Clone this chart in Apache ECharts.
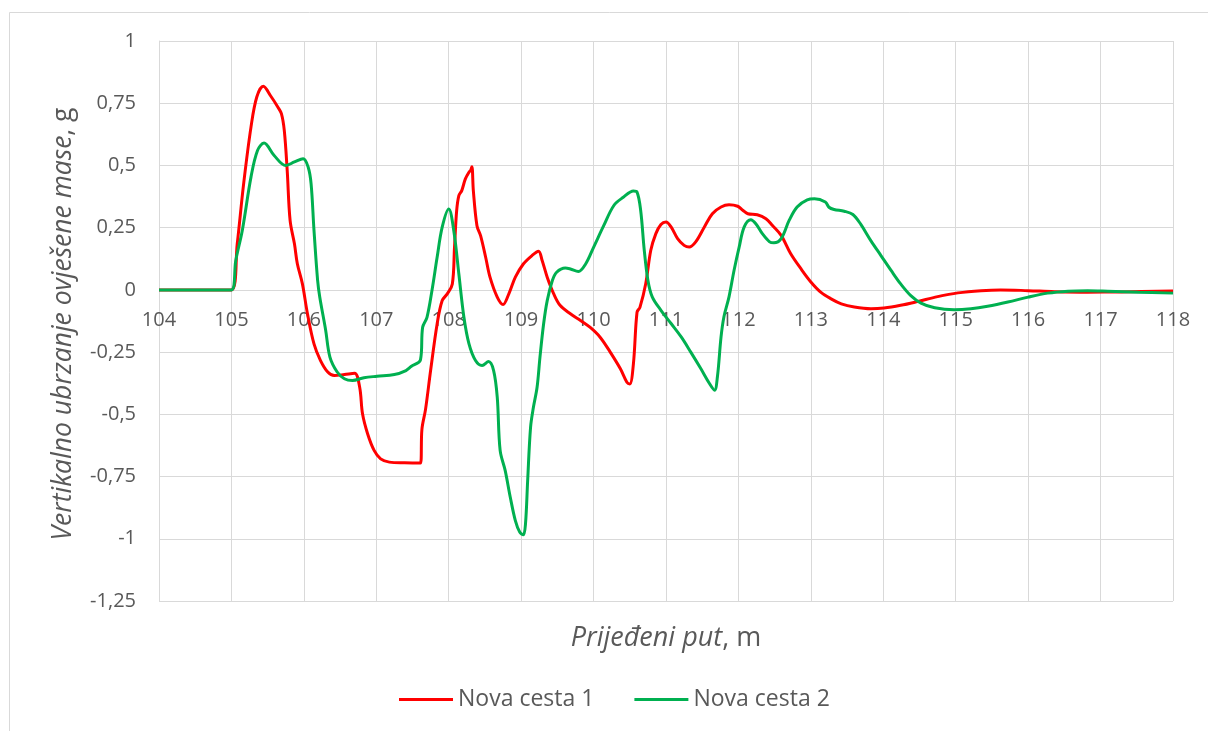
<!DOCTYPE html>
<html>
<head>
<meta charset="utf-8">
<script src="https://cdn.jsdelivr.net/npm/echarts@6/dist/echarts.min.js"></script>
<style>
html,body{margin:0;padding:0;background:#fff;}
#chart{width:1208px;height:731px;}
</style>
</head>
<body>
<div id="chart"></div>
<script>
// Data
const seriesNames = ['Nova cesta 1', 'Nova cesta 2'];

const redX = [104, 105.0, 105.08, 105.17, 105.27, 105.35, 105.44, 105.54, 105.64, 105.69, 105.73, 105.77, 105.81, 105.87, 105.91, 105.98, 106.05, 106.14, 106.23, 106.33, 106.42, 106.56, 106.70, 106.77, 106.81, 106.88, 106.97, 107.06, 107.18, 107.39, 107.61, 107.63, 107.68, 107.75, 107.84, 107.91, 107.98, 108.05, 108.08, 108.11, 108.14, 108.18, 108.23, 108.28, 108.30, 108.32, 108.34, 108.39, 108.44, 108.51, 108.57, 108.67, 108.75, 108.83, 108.92, 109.03, 109.15, 109.24, 109.29, 109.36, 109.45, 109.54, 109.68, 109.82, 109.95, 110.09, 110.23, 110.37, 110.46, 110.50, 110.55, 110.60, 110.64, 110.72, 110.79, 110.86, 110.93, 111.0, 111.07, 111.16, 111.25, 111.32, 111.41, 111.53, 111.64, 111.76, 111.87, 111.99, 112.06, 112.13, 112.26, 112.38, 112.47, 112.59, 112.72, 112.86, 113.0, 113.14, 113.28, 113.42, 113.60, 113.83, 114.01, 114.24, 114.47, 114.75, 115.03, 115.35, 115.62, 116.0, 116.36, 116.82, 117.29, 118.0];
const redY = [0, 0, 0.185, 0.43, 0.654, 0.775, 0.818, 0.78, 0.735, 0.708, 0.64, 0.48, 0.279, 0.185, 0.105, 0.024, -0.096, -0.217, -0.284, -0.33, -0.344, -0.34, -0.335, -0.39, -0.498, -0.578, -0.645, -0.679, -0.692, -0.695, -0.696, -0.56, -0.48, -0.324, -0.137, -0.043, -0.016, 0.024, 0.171, 0.319, 0.379, 0.399, 0.446, 0.473, 0.479, 0.495, 0.399, 0.258, 0.218, 0.131, 0.051, -0.029, -0.059, -0.016, 0.051, 0.104, 0.138, 0.155, 0.118, 0.051, -0.016, -0.063, -0.096, -0.123, -0.15, -0.19, -0.25, -0.317, -0.371, -0.378, -0.297, -0.09, -0.07, 0.025, 0.159, 0.226, 0.263, 0.273, 0.253, 0.206, 0.179, 0.172, 0.193, 0.253, 0.306, 0.333, 0.342, 0.336, 0.32, 0.306, 0.302, 0.286, 0.259, 0.219, 0.146, 0.086, 0.032, -0.01, -0.036, -0.056, -0.069, -0.076, -0.073, -0.062, -0.047, -0.027, -0.012, -0.003, 0, -0.003, -0.007, -0.009, -0.008, -0.004];

const greenX = [104, 105.0, 105.06, 105.15, 105.27, 105.36, 105.45, 105.59, 105.75, 105.87, 105.99, 106.06, 106.10, 106.14, 106.19, 106.22, 106.30, 106.36, 106.46, 106.56, 106.67, 106.83, 107.01, 107.25, 107.41, 107.48, 107.61, 107.64, 107.70, 107.77, 107.84, 107.91, 108.0, 108.07, 108.14, 108.21, 108.28, 108.37, 108.46, 108.55, 108.62, 108.67, 108.71, 108.78, 108.85, 108.92, 108.98, 109.03, 109.06, 109.09, 109.13, 109.17, 109.22, 109.26, 109.31, 109.36, 109.43, 109.49, 109.61, 109.68, 109.79, 109.89, 110.0, 110.14, 110.28, 110.41, 110.55, 110.60, 110.65, 110.70, 110.75, 110.81, 110.93, 111.07, 111.21, 111.34, 111.48, 111.60, 111.67, 111.71, 111.76, 111.80, 111.87, 111.94, 112.01, 112.08, 112.17, 112.24, 112.33, 112.43, 112.49, 112.59, 112.70, 112.81, 112.95, 113.05, 113.20, 113.25, 113.32, 113.46, 113.58, 113.69, 113.83, 113.97, 114.11, 114.24, 114.38, 114.52, 114.71, 114.98, 115.21, 115.44, 115.72, 116.0, 116.27, 116.55, 116.82, 117.10, 117.52, 118.0];
const greenY = [0, 0, 0.118, 0.239, 0.453, 0.56, 0.59, 0.54, 0.50, 0.514, 0.527, 0.493, 0.426, 0.239, 0.038, -0.03, -0.16, -0.27, -0.33, -0.357, -0.364, -0.353, -0.347, -0.34, -0.324, -0.308, -0.281, -0.15, -0.11, 0, 0.131, 0.252, 0.325, 0.238, 0.064, -0.11, -0.217, -0.284, -0.304, -0.288, -0.324, -0.431, -0.645, -0.726, -0.833, -0.927, -0.973, -0.984, -0.94, -0.766, -0.552, -0.471, -0.391, -0.27, -0.137, -0.043, 0.037, 0.071, 0.088, 0.084, 0.074, 0.104, 0.171, 0.258, 0.339, 0.372, 0.397, 0.393, 0.32, 0.159, 0.039, -0.028, -0.082, -0.135, -0.189, -0.249, -0.316, -0.376, -0.403, -0.349, -0.189, -0.108, -0.028, 0.079, 0.172, 0.253, 0.282, 0.266, 0.226, 0.193, 0.189, 0.206, 0.279, 0.333, 0.362, 0.366, 0.353, 0.332, 0.323, 0.316, 0.303, 0.263, 0.197, 0.137, 0.077, 0.024, -0.023, -0.053, -0.072, -0.08, -0.076, -0.066, -0.049, -0.029, -0.013, -0.005, -0.003, -0.005, -0.009, -0.013];

const xMin = 104, xMax = 118, xStep = 1;
const yMin = -1.25, yMax = 1, yStep = 0.25;

const xTitle = 'Prijeđeni put';
const xUnit = 'm';
const yTitle = 'Vertikalno ubrzanje ovješene mase';
const yUnit = 'g';

function pairs(xs, ys) { return xs.map((x, i) => [x, ys[i]]); }

const FONT = 'Open Sans';
const chart = echarts.init(document.getElementById('chart'));
const gridColor = '#d9d9d9';
const textColor = '#595959';

const G = { left: 159, right: 35, top: 41 };
// y pixel of value 0 inside the main grid (used to place the x-axis labels band)
const plotTop = 41, plotBottom = 601;
const zeroPx = plotTop + (yMax - 0) / (yMax - yMin) * (plotBottom - plotTop);

chart.setOption({
  animation: false,
  backgroundColor: '#ffffff',
  textStyle: { fontFamily: FONT },
  graphic: [{
    type: 'rect',
    shape: { x: 9.5, y: 12.5, width: 1400, height: 900 },
    style: { fill: 'none', stroke: gridColor, lineWidth: 1 },
    silent: true, z: -10
  }],
  grid: [
    { left: G.left, right: G.right, top: plotTop, bottom: 731 - plotBottom, containLabel: false, outerBoundsMode: 'none' },
    { left: G.left, right: G.right, top: plotTop, height: zeroPx - plotTop, containLabel: false, outerBoundsMode: 'none' }
  ],
  legend: {
    data: seriesNames,
    left: 394, top: 683,
    itemWidth: 54, itemHeight: 3, itemGap: 40,
    icon: 'rect',
    textStyle: { fontFamily: FONT, fontSize: 23, color: textColor }
  },
  xAxis: [{
    gridIndex: 0,
    type: 'value', min: xMin, max: xMax, interval: xStep,
    axisLine: { show: false },
    axisTick: { show: false },
    axisLabel: { show: false },
    splitLine: { show: true, lineStyle: { color: gridColor, width: 1 } }
  }, {
    gridIndex: 1, position: 'bottom',
    type: 'value', min: xMin, max: xMax, interval: xStep,
    name: '{i|' + xTitle + '}{n|, ' + xUnit + '}',
    nameLocation: 'middle', nameGap: 335,
    nameTextStyle: {
      rich: {
        i: { fontFamily: FONT, fontStyle: 'italic', fontSize: 27, color: textColor },
        n: { fontFamily: FONT, fontSize: 27, color: textColor }
      }
    },
    axisLine: { show: false },
    axisTick: { show: false },
    axisLabel: { fontFamily: FONT, fontSize: 20, color: textColor, margin: 20 },
    splitLine: { show: false }
  }],
  yAxis: [{
    gridIndex: 0,
    type: 'value', min: yMin, max: yMax, interval: yStep,
    name: '{i|' + yTitle + '}{n|, ' + yUnit + '}',
    nameLocation: 'middle', nameGap: 82, nameRotate: 90,
    nameTextStyle: {
      padding: [0, 6, 0, 0],
      rich: {
        i: { fontFamily: FONT, fontStyle: 'italic', fontSize: 26.5, color: textColor },
        n: { fontFamily: FONT, fontSize: 26.5, color: textColor }
      }
    },
    axisLine: { show: true, lineStyle: { color: gridColor, width: 1 } },
    axisTick: { show: false },
    axisLabel: {
      fontFamily: FONT, fontSize: 20, color: textColor, margin: 23,
      formatter: v => String(Math.round(v * 100) / 100).replace('.', ',')
    },
    splitLine: { show: true, lineStyle: { color: gridColor, width: 1 } }
  }, {
    gridIndex: 1, type: 'value', min: 0, max: 1, show: false
  }],
  series: [
    {
      name: seriesNames[0], type: 'line', data: pairs(redX, redY),
      xAxisIndex: 0, yAxisIndex: 0,
      showSymbol: false, symbol: 'none', smooth: 0.35,
      lineStyle: { color: '#ff0000', width: 3 }, itemStyle: { color: '#ff0000' }
    },
    {
      name: seriesNames[1], type: 'line', data: pairs(greenX, greenY),
      xAxisIndex: 0, yAxisIndex: 0,
      showSymbol: false, symbol: 'none', smooth: 0.35,
      lineStyle: { color: '#00b050', width: 3 }, itemStyle: { color: '#00b050' }
    }
  ]
});
</script>
</body>
</html>
